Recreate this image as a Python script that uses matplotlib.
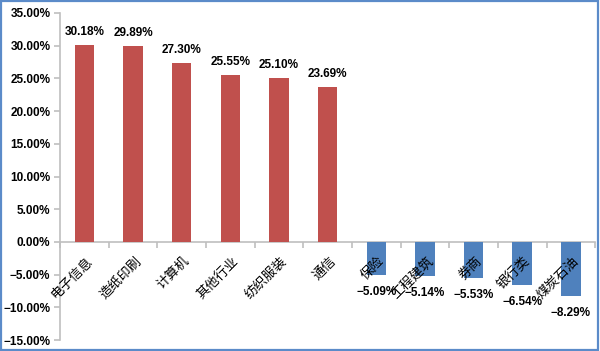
import matplotlib
matplotlib.use("Agg")
from matplotlib import pyplot as plt
from matplotlib.patches import Rectangle
from matplotlib.ticker import FuncFormatter, MultipleLocator

# ── Data ───────────────────────────────────────────────────────────────────────
categories = ["电子信息", "造纸印刷", "计算机", "其他行业", "纺织服装", "通信",
              "保险", "工程建筑", "券商", "银行类", "煤炭石油"]
returns = [30.18, 29.89, 27.30, 25.55, 25.10, 23.69,
           -5.09, -5.14, -5.53, -6.54, -8.29]

# ── Style ──────────────────────────────────────────────────────────────────────
_COL_UP    = "#c0504d"
_COL_DOWN  = "#4f81bd"
_COL_AXIS  = "#bfbfbf"
_COL_FRAME = "#5b8bc9"
_NUM_FONT  = ["Liberation Sans", "DejaVu Sans"]
_CJK_FONT  = ["Noto Sans CJK SC", "DejaVu Sans"]

fig = plt.figure(figsize=(6.0, 3.51), dpi=100)
fig.patch.set_facecolor("white")
fig.patches.append(Rectangle((0.002, 0.003), 0.995, 0.994, transform=fig.transFigure,
                             fill=False, edgecolor=_COL_FRAME, linewidth=1.6))

ax = fig.add_axes([0.1, 0.031, 0.892, 0.932])
x = list(range(len(categories)))
colors = [_COL_UP if v >= 0 else _COL_DOWN for v in returns]
ax.bar(x, returns, width=0.4, color=colors, zorder=3)

ax.set_xlim(-0.5, len(categories) - 0.5)
ax.set_ylim(-15, 35)
ax.yaxis.set_major_locator(MultipleLocator(5))
ax.yaxis.set_major_formatter(FuncFormatter(lambda v, _: f"{v:.2f}%".replace("-", "\u2212")))

for s in ("top", "right"):
    ax.spines[s].set_visible(False)
ax.spines["left"].set_color(_COL_AXIS)
ax.spines["left"].set_linewidth(1.2)
ax.spines["bottom"].set_position(("data", 0))
ax.spines["bottom"].set_color(_COL_AXIS)
ax.spines["bottom"].set_linewidth(1.2)

ax.set_xticks([i - 0.5 for i in range(len(categories) + 1)])
ax.set_xticklabels([])
ax.tick_params(axis="x", direction="out", length=4, color=_COL_AXIS, width=1.2)
ax.tick_params(axis="y", direction="out", length=4, color=_COL_AXIS, width=1.2, pad=3)
for lbl in ax.get_yticklabels():
    lbl.set_family(_NUM_FONT)
    lbl.set_fontweight("bold")
    lbl.set_fontsize(8.5)

# category labels, rotated, hanging below the zero line
for i, name in enumerate(categories):
    ax.text(i + 0.03, -1.9, name, rotation=45, rotation_mode="anchor",
            ha="right", va="top", fontsize=9.5, family=_CJK_FONT, zorder=4)

# value labels
for i, v in enumerate(returns):
    txt = f"{v:.2f}%".replace("-", "\u2212")
    if v >= 0:
        ax.annotate(txt, (i, v), textcoords="offset points", xytext=(0, 5),
                    ha="center", va="bottom", fontsize=8.5, fontweight="bold",
                    family=_NUM_FONT)
    else:
        ax.annotate(txt, (i, v), textcoords="offset points", xytext=(0, -8),
                    ha="center", va="top", fontsize=8.5, fontweight="bold",
                    family=_NUM_FONT, zorder=5)

fig.savefig("out.png", dpi=100)
